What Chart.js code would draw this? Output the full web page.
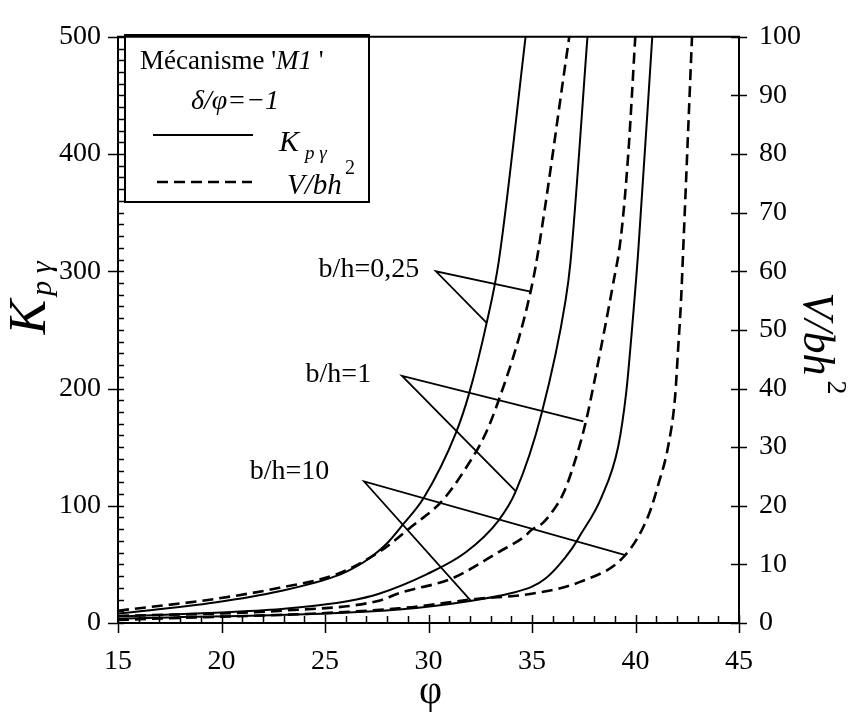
<!DOCTYPE html>
<html><head><meta charset="utf-8">
<script src="https://cdn.jsdelivr.net/npm/chart.js@4.4.1/dist/chart.umd.min.js"></script>
<style>html,body{margin:0;padding:0;background:#fff;}canvas{display:block}</style>
</head><body>
<canvas id="c" width="848" height="720"></canvas>
<script>
// ---- data ----
// Solid curves: K_pγ (left axis)
const phiK025 = [15, 19.67, 22.8, 25.69, 26.5, 27.13, 28.0, 28.72, 29.78, 31.32, 31.95, 32.81, 33.39, 34.69];
const kpg025  = [8, 17.4, 27, 41, 48, 55, 68, 83, 107, 162, 195, 256, 308, 500];
const phiK1   = [15, 20, 22.9, 24.39, 26.07, 27.61, 29.88, 31.8, 33.39, 34.21, 35.46, 36.62, 36.86, 37.68];
const kpg1    = [5.5, 9, 12, 14.5, 18.5, 25, 41.3, 60.3, 87.6, 112, 178.5, 275, 308, 500];
const phiK10  = [15, 28.58, 32.09, 34.02, 35.0, 35.65, 36.28, 36.91, 37.3, 38.35, 39.17, 39.56, 39.75, 40.13, 40.81];
const kpg10   = [3.5, 11.6, 19, 25.6, 31, 38, 49, 63, 74, 107, 151, 198, 234, 316.5, 500];
// Dashed curves: V/bh² (right axis)
const phiV025 = [15, 19.67, 22.8, 25.54, 27.61, 29.2, 30.65, 31.8, 32.77, 33.39, 34.35, 34.93, 35.22, 36.8];
const vbh025  = [2.1, 4.1, 6, 8.3, 12.1, 16.5, 20.8, 26.4, 32.4, 38, 48.4, 56.5, 61.7, 100];
const phiV1   = [15, 22.9, 27.61, 28.58, 31.13, 33.39, 34.69, 34.98, 35.5, 36.14, 36.5, 36.91, 37.58, 38.0, 38.5, 38.9, 39.3, 39.65, 39.99];
const vbh1    = [1.2, 2.1, 3.8, 5.1, 7.6, 12.1, 14.9, 15.9, 17, 19.8, 22, 25.8, 34, 41, 50, 57.5, 66, 80, 100];
const phiV10  = [15, 28.58, 32.28, 34.98, 37.39, 39.51, 40.61, 41.1, 41.58, 41.91, 42.06, 42.2, 42.3, 42.73];
const vbh10   = [0.5, 2.5, 4.1, 5, 7.1, 11.6, 18.2, 23.6, 30.2, 38.5, 46.8, 55, 63.3, 100];
// Tick values
const xTicks  = [15, 20, 25, 30, 35, 40, 45];
const yTicks  = [0, 100, 200, 300, 400, 500];
const y1Ticks = [0, 10, 20, 30, 40, 50, 60, 70, 80, 90, 100];
// Annotations (b/h labels with leader lines), in (φ, K_pγ) data coordinates
const bhLabels   = ['b/h=0,25', 'b/h=1', 'b/h=10'];
const bhLabelPhi = [29.55, 27.23, 25.21];
const bhLabelK   = [301.7, 211.6, 129];
const apexPhi    = [30.36, 28.72, 26.89];
const apexK      = [300, 210.7, 120.7];
const endAPhi    = [34.93, 37.48, 39.51];
const endAK      = [282.6, 171.9, 57.9];
const endBPhi    = [32.81, 34.21, 32.04];
const endBK      = [256, 112.4, 19];

const SERIF = "'Liberation Serif', 'Times New Roman', serif";
const mk = (xs, ys) => xs.map((x, i) => ({x: x, y: ys[i]}));
const solid = (d) => ({data: d, yAxisID: 'y', borderColor: '#000', borderWidth: 2, pointRadius: 0, fill: false, cubicInterpolationMode: 'monotone'});
const dashed = (d) => ({data: d, yAxisID: 'y1', borderColor: '#000', borderWidth: 2.6, borderDash: [11, 6], pointRadius: 0, fill: false, cubicInterpolationMode: 'monotone'});

const tickFont = {family: SERIF, size: 28};

const decor = {
  id: 'decor',
  afterDraw(chart) {
    const ctx = chart.ctx, a = chart.chartArea;
    const sx = chart.scales.x, sy = chart.scales.y, sy1 = chart.scales.y1;
    ctx.save();
    ctx.strokeStyle = '#000';
    ctx.fillStyle = '#000';
    // frame
    ctx.lineWidth = 2;
    ctx.beginPath();
    ctx.moveTo(a.left, a.bottom); ctx.lineTo(a.left, a.top); ctx.lineTo(a.right, a.top); ctx.lineTo(a.right, a.bottom); ctx.closePath();
    ctx.stroke();
    ctx.lineWidth = 1.5;
    ctx.beginPath();
    for (let v = 0; v <= 500; v += 10) {
      const p = Math.round(sy.getPixelForValue(v)) + 0.5;
      if (v % 100 === 0) { ctx.moveTo(a.left - 10, p); ctx.lineTo(a.left + 6, p); }
      else { ctx.moveTo(a.left, p); ctx.lineTo(a.left + 6, p); }
    }
    for (let v = 15; v <= 45; v += 1) {
      const p = Math.round(sx.getPixelForValue(v)) + 0.5;
      if (v % 5 === 0) { ctx.moveTo(p, a.bottom + 10); ctx.lineTo(p, a.bottom - 8); }
      else { ctx.moveTo(p, a.bottom); ctx.lineTo(p, a.bottom - 7); }
    }
    for (const v of y1Ticks) {
      const p = Math.round(sy1.getPixelForValue(v)) + 0.5;
      ctx.moveTo(a.right - 8, p); ctx.lineTo(a.right + 8, p);
    }
    ctx.stroke();

    // leader lines and labels
    ctx.lineWidth = 1.8;
    ctx.beginPath();
    for (let i = 0; i < bhLabels.length; i++) {
      const ax = sx.getPixelForValue(apexPhi[i]), ay = sy.getPixelForValue(apexK[i]);
      ctx.moveTo(sx.getPixelForValue(endAPhi[i]), sy.getPixelForValue(endAK[i]));
      ctx.lineTo(ax, ay);
      ctx.lineTo(sx.getPixelForValue(endBPhi[i]), sy.getPixelForValue(endBK[i]));
    }
    ctx.stroke();
    ctx.font = '28px ' + SERIF;
    ctx.textAlign = 'right';
    ctx.textBaseline = 'middle';
    for (let i = 0; i < bhLabels.length; i++) {
      ctx.fillText(bhLabels[i], sx.getPixelForValue(bhLabelPhi[i]), sy.getPixelForValue(bhLabelK[i]));
    }

    // legend box
    ctx.lineWidth = 2;
    ctx.strokeRect(125, 35, 244, 167);
    ctx.textBaseline = 'alphabetic';
    ctx.textAlign = 'left';
    ctx.font = '27px ' + SERIF;
    const t1 = 'Mécanisme \'';
    ctx.fillText(t1, 140, 69);
    let w = ctx.measureText(t1).width;
    ctx.font = 'italic 27px ' + SERIF;
    ctx.fillText('M1', 140 + w, 69);
    w += ctx.measureText('M1').width;
    ctx.font = '27px ' + SERIF;
    ctx.fillText(' \'', 140 + w, 69);
    ctx.font = 'italic 28px ' + SERIF;
    ctx.textAlign = 'center';
    ctx.fillText('δ/φ=−1', 235, 109);
    ctx.textAlign = 'left';
    ctx.lineWidth = 2;
    ctx.beginPath(); ctx.moveTo(153, 135); ctx.lineTo(253, 135); ctx.stroke();
    ctx.setLineDash([11, 6]);
    ctx.lineWidth = 2.6;
    ctx.beginPath(); ctx.moveTo(157, 182); ctx.lineTo(252, 182); ctx.stroke();
    ctx.setLineDash([]);
    ctx.font = 'italic 30px ' + SERIF;
    ctx.fillText('K', 279, 151);
    ctx.font = 'italic 19px ' + SERIF;
    ctx.fillText('p γ', 305, 159);
    ctx.font = 'italic 29px ' + SERIF;
    ctx.fillText('V/bh', 287, 194);
    ctx.font = '20px ' + SERIF;
    ctx.fillText('2', 345, 174);

    // axis titles
    ctx.font = '40px ' + SERIF;
    ctx.textAlign = 'center';
    ctx.textBaseline = 'middle';
    ctx.fillText('φ', sx.getPixelForValue(30.1), 692);

    // left title K_pγ rotated
    ctx.save();
    ctx.translate(45, 298);
    ctx.rotate(-Math.PI / 2);
    ctx.textAlign = 'left';
    ctx.textBaseline = 'alphabetic';
    ctx.font = 'italic 52px ' + SERIF;
    const kw = ctx.measureText('K').width;
    ctx.font = 'italic 30px ' + SERIF;
    const sw = ctx.measureText('p γ').width;
    const start = -(kw + sw + 4) / 2;
    ctx.font = 'italic 52px ' + SERIF;
    ctx.fillText('K', start, 0);
    ctx.font = 'italic 30px ' + SERIF;
    ctx.fillText('p γ', start + kw + 4, 6);
    ctx.restore();

    // right title V/bh² rotated clockwise
    ctx.save();
    ctx.translate(804, 342);
    ctx.rotate(Math.PI / 2);
    ctx.textAlign = 'left';
    ctx.textBaseline = 'alphabetic';
    ctx.font = 'italic 44px ' + SERIF;
    const vw = ctx.measureText('V/bh').width;
    const vs = -(vw + 16) / 2;
    ctx.fillText('V/bh', vs, 0);
    ctx.font = '28px ' + SERIF;
    ctx.fillText('2', vs + vw + 5, -24);
    ctx.restore();

    ctx.restore();
  }
};

new Chart(document.getElementById('c'), {
  type: 'line',
  data: {
    datasets: [
      solid(mk(phiK025, kpg025)),
      solid(mk(phiK1, kpg1)),
      solid(mk(phiK10, kpg10)),
      dashed(mk(phiV025, vbh025)),
      dashed(mk(phiV1, vbh1)),
      dashed(mk(phiV10, vbh10))
    ]
  },
  options: {
    responsive: false,
    animation: false,
    devicePixelRatio: 1,
    layout: {padding: {top: 18, left: 0, right: 0, bottom: 0}},
    plugins: {legend: {display: false}, tooltip: {enabled: false}},
    scales: {
      x: {
        type: 'linear', min: 15, max: 45,
        afterBuildTicks: s => { s.ticks = xTicks.map(v => ({value: v})); },
        ticks: {font: tickFont, color: '#000', padding: 22, maxRotation: 0},
        grid: {display: false, drawTicks: false},
        border: {display: false},
        afterFit: s => { s.height = 97; }
      },
      y: {
        position: 'left', min: 0, max: 500,
        afterBuildTicks: s => { s.ticks = yTicks.map(v => ({value: v})); },
        ticks: {font: tickFont, color: '#000', padding: 17},
        grid: {display: false, drawTicks: false},
        border: {display: false},
        afterFit: s => { s.width = 118; }
      },
      y1: {
        position: 'right', min: 0, max: 100,
        afterBuildTicks: s => { s.ticks = y1Ticks.map(v => ({value: v})); },
        ticks: {font: tickFont, color: '#000', padding: 20},
        grid: {display: false, drawTicks: false},
        border: {display: false},
        afterFit: s => { s.width = 109; }
      }
    }
  },
  plugins: [decor]
});
</script>
</body></html>
